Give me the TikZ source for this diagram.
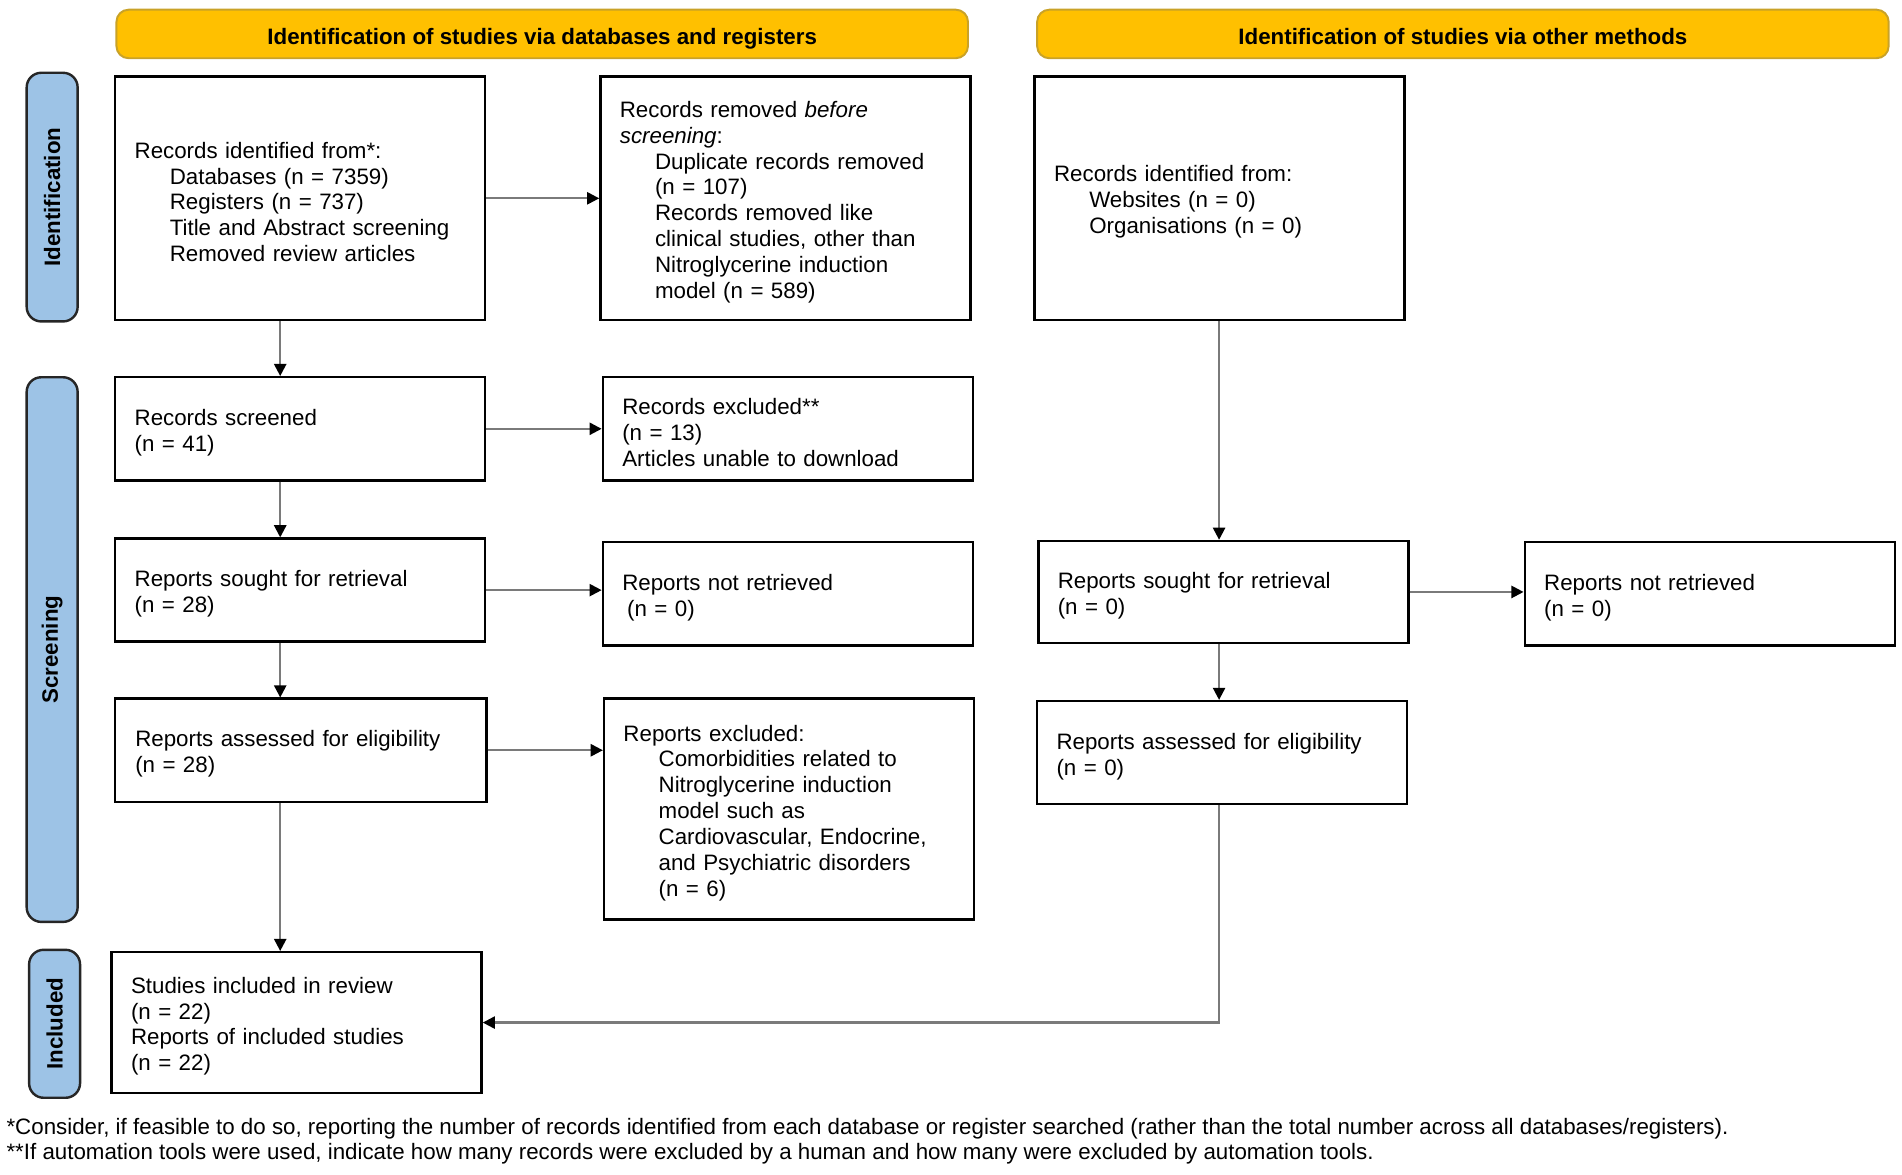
\documentclass[tikz,border=0pt]{standalone}
\usepackage{fontspec}
\setmainfont{Liberation Sans}
\usetikzlibrary{arrows.meta}
\definecolor{hdr}{HTML}{FFC000}
\definecolor{hdrb}{HTML}{C9A227}
\definecolor{side}{HTML}{9DC3E6}
\definecolor{conn}{HTML}{7A7A7A}
\newcommand{\ind}{\hspace*{14.5pt}}
\newcommand{\drop}{\rule{0pt}{9.7pt}}
\begin{document}
\begin{tikzpicture}[x=0.5pt,y=-0.5pt,
  every node/.style={font=\fontsize{9.2pt}{10.65pt}\selectfont},
  box/.style={draw=black, line width=1pt, fill=white, inner xsep=8pt, inner ysep=0pt, align=left, anchor=center, minimum width=152.5pt, text width=136.5pt},
  hdrbox/.style={draw=hdrb, fill=hdr, rounded corners=5pt, line width=0.8pt, minimum width=351pt, minimum height=20pt, font=\fontsize{9.2pt}{10.65pt}\selectfont\bfseries},
  sidebox/.style={draw=black!85, fill=side, rounded corners=6pt, line width=1pt, rotate=90, minimum height=21pt, inner sep=0pt, font=\fontsize{9.2pt}{10.65pt}\selectfont\bfseries},
  arr/.style={draw=conn, line width=0.9pt, -{Triangle[length=5pt,width=5pt,color=black]}},
  foot/.style={anchor=base west, inner sep=0pt}
]
\useasboundingbox (0,0) rectangle (1568,968);

% headers
\node[hdrbox] (h1) at (447,28) {\rule{0pt}{8.5pt}\smash{Identification of studies via databases and registers}};
\node[hdrbox] (h2) at (1206,28) {\rule{0pt}{8.5pt}\smash{Identification of studies via other methods}};

% side labels
\node[sidebox, minimum width=102.5pt] (sid) at (43,162.5) {Identification};
\node[sidebox, minimum width=224.5pt] (ssc) at (43,535.5) {Screening};
\node[sidebox, minimum width=61pt] (sin) at (45,844) {Included};

% boxes
\node[box, minimum height=100.5pt] (id1) at (247.5,163.5) {\drop Records identified from*:\\
\ind Databases (n = 7359)\\
\ind Registers (n = 737)\\
\ind Title and Abstract screening\\
\ind Removed review articles};

\node[box, minimum height=100.5pt] (id2) at (647.5,163.5) {\drop Records removed \textit{before}\\
\textit{screening}:\\
\ind Duplicate records removed\\
\ind (n = 107)\\
\ind Records removed like\\
\ind clinical studies, other than\\
\ind Nitroglycerine induction\\
\ind model (n = 589)};

\node[box, minimum height=100.5pt] (oth1) at (1005.5,163.5) {\drop Records identified from:\\
\ind Websites (n = 0)\\
\ind Organisations (n = 0)};

\node[box, minimum height=42.5pt] (scr) at (247.5,353.5) {\drop Records screened\\
(n = 41)};

\node[box, minimum height=42.5pt] (excl) at (649.5,353.5) {\drop Records excluded**\\
(n = 13)\\
Articles unable to download};

\node[box, minimum height=42.5pt] (sought) at (247.5,486.5) {\drop Reports sought for retrieval\\
(n = 28)};

\node[box, minimum height=42.5pt] (notret) at (649.5,489.5) {\drop Reports not retrieved\\
\hspace*{2pt}(n = 0)};

\node[box, minimum height=42pt] (osought) at (1008.5,488) {\drop Reports sought for retrieval\\
(n = 0)};

\node[box, minimum height=42.5pt] (onotret) at (1409.5,489.5) {\drop Reports not retrieved\\
(n = 0)};

\node[box, minimum height=42.5pt, minimum width=153pt] (elig) at (248,618.5) {\drop Reports assessed for eligibility\\
(n = 28)};

\node[box, minimum height=91pt] (rexcl) at (650.5,667) {\drop Reports excluded:\\
\ind Comorbidities related to\\
\ind Nitroglycerine induction\\
\ind model such as\\
\ind Cardiovascular, Endocrine,\\
\ind and Psychiatric disorders\\
\ind (n = 6)};

\node[box, minimum height=42.5pt] (oelig) at (1007.5,620.5) {\drop Reports assessed for eligibility\\
(n = 0)};

\node[box, minimum height=58pt] (incl) at (244.5,843) {\drop Studies included in review\\
(n = 22)\\
Reports of included studies\\
(n = 22)};

% connectors
\coordinate (cL) at (231,0);
\coordinate (cR) at (1005,0);
\draw[arr] (id1.south -| cL) -- (scr.north -| cL);
\draw[arr] (scr.south -| cL) -- (sought.north -| cL);
\draw[arr] (sought.south -| cL) -- (elig.north -| cL);
\draw[arr] (elig.south -| cL) -- (incl.north -| cL);
\draw[arr] (id1.east) -- (id2.west);
\draw[arr] (scr.east) -- (scr.east -| excl.west);
\draw[arr] (sought.east) -- (sought.east -| notret.west);
\draw[arr] (elig.east) -- (elig.east -| rexcl.west);
\draw[arr] (oth1.south -| cR) -- (osought.north -| cR);
\draw[arr] (osought.east) -- (osought.east -| onotret.west);
\draw[arr] (osought.south -| cR) -- (oelig.north -| cR);
\draw[arr] (oelig.south -| cR) |- (incl.east);

% footnotes
\node[foot] (fn1) at (5,935) {*Consider, if feasible to do so, reporting the number of records identified from each database or register searched (rather than the total number across all databases/registers).};
\node[foot] (fn2) at (5,956) {**If automation tools were used, indicate how many records were excluded by a human and how many were excluded by automation tools.};
\end{tikzpicture}
\end{document}
